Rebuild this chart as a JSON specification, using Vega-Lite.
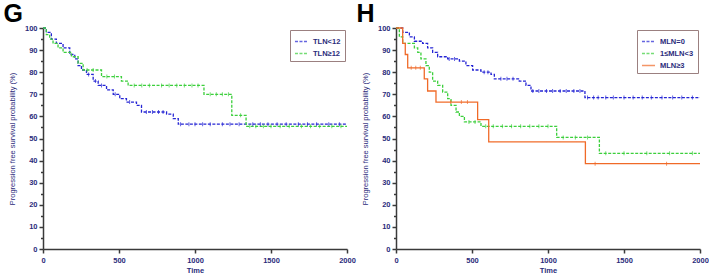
{
  "$schema": "https://vega.github.io/schema/vega-lite/v6.json",
  "background": "white",
  "padding": {"left": 3, "top": 2, "right": 0, "bottom": 0},
  "spacing": 0,
  "config": {
    "view": {"stroke": null},
    "font": "Liberation Sans",
    "title": {"fontSize": 25, "fontWeight": "bold", "font": "Liberation Sans", "color": "#000000", "anchor": "start", "frame": "bounds", "offset": -3, "dx": -5},
    "axis": {
      "grid": false,
      "domainColor": "#3a3a3a", "domainWidth": 1.5,
      "tickColor": "#3a3a3a", "tickWidth": 1.5, "tickSize": 4,
      "labelColor": "#2b2b7b", "labelFont": "Liberation Sans", "labelFontSize": 7.5, "labelFontWeight": "bold", "labelOverlap": false, "labelFlush": false,
      "titleColor": "#2b2b7b", "titleFont": "Liberation Sans", "titleFontSize": 7.5
    },
    "legend": {
      "orient": "top-right", "offset": 2, "strokeColor": "#9b8080", "fillColor": "white", "padding": 4,
      "symbolType": "stroke", "symbolSize": 170, "symbolStrokeWidth": 1.3, "rowPadding": 1,
      "labelFont": "Liberation Sans", "labelFontSize": 7.5, "labelFontWeight": "bold", "labelColor": "#2b2b7b",
      "title": null
    }
  },
  "resolve": {"scale": {"color": "independent", "strokeDash": "independent"}, "legend": {"color": "independent", "strokeDash": "independent"}},
  "hconcat": [
    {
      "width": 304, "height": 221,
      "title": {"text": "G"},
      "encoding": {
        "x": {"field": "t", "type": "quantitative", "scale": {"domain": [0, 2000]}, "axis": {"values": [0, 500, 1000, 1500, 2000], "format": "d", "labelFlush": false, "title": "Time", "titleFontWeight": "bold", "titlePadding": 3, "labelPadding": 3}},
        "y": {"field": "s", "type": "quantitative", "scale": {"domain": [0, 100]}, "axis": {"values": [0,5,10,15,20,25,30,35,40,45,50,55,60,65,70,75,80,85,90,95,100], "labelOverlap": false, "labelExpr": "datum.value % 10 === 0 ? datum.label : ''", "tickSize": {"condition": {"test": "datum.value % 10 === 0", "value": 4}, "value": 2.5}, "title": "Progression free survival probability (%)", "titleFontWeight": "normal", "titlePadding": 8}},
        "color": {"field": "g", "type": "nominal", "scale": {"domain": ["TLN<12", "TLN≥12"], "range": ["#2424d4", "#3ccf3c"]}}
      },
      "layer": [
        {
          "data": {"values": [
            {"g": "TLN<12", "t": 0, "s": 100}, {"g": "TLN<12", "t": 22, "s": 98}, {"g": "TLN<12", "t": 55, "s": 95}, {"g": "TLN<12", "t": 88, "s": 93},
            {"g": "TLN<12", "t": 132, "s": 91}, {"g": "TLN<12", "t": 176, "s": 88}, {"g": "TLN<12", "t": 209, "s": 86}, {"g": "TLN<12", "t": 231, "s": 83},
            {"g": "TLN<12", "t": 253, "s": 81}, {"g": "TLN<12", "t": 286, "s": 79}, {"g": "TLN<12", "t": 330, "s": 76}, {"g": "TLN<12", "t": 363, "s": 74},
            {"g": "TLN<12", "t": 418, "s": 72}, {"g": "TLN<12", "t": 462, "s": 70}, {"g": "TLN<12", "t": 505, "s": 68}, {"g": "TLN<12", "t": 549, "s": 66.5},
            {"g": "TLN<12", "t": 615, "s": 65}, {"g": "TLN<12", "t": 648, "s": 62}, {"g": "TLN<12", "t": 813, "s": 61}, {"g": "TLN<12", "t": 857, "s": 59},
            {"g": "TLN<12", "t": 890, "s": 56.5}, {"g": "TLN<12", "t": 2000, "s": 56.5},
            {"g": "TLN≥12", "t": 0, "s": 100}, {"g": "TLN≥12", "t": 22, "s": 97}, {"g": "TLN≥12", "t": 44, "s": 95}, {"g": "TLN≥12", "t": 66, "s": 93},
            {"g": "TLN≥12", "t": 99, "s": 91}, {"g": "TLN≥12", "t": 132, "s": 89}, {"g": "TLN≥12", "t": 187, "s": 87}, {"g": "TLN≥12", "t": 231, "s": 84},
            {"g": "TLN≥12", "t": 264, "s": 81}, {"g": "TLN≥12", "t": 385, "s": 78}, {"g": "TLN≥12", "t": 516, "s": 76}, {"g": "TLN≥12", "t": 560, "s": 74},
            {"g": "TLN≥12", "t": 1059, "s": 70}, {"g": "TLN≥12", "t": 1242, "s": 60.5}, {"g": "TLN≥12", "t": 1336, "s": 55.5}, {"g": "TLN≥12", "t": 2000, "s": 55.5}
          ]},
          "mark": {"type": "line", "interpolate": "step-after", "strokeWidth": 1.3},
          "encoding": {
            "strokeDash": {"field": "g", "type": "nominal", "scale": {"domain": ["TLN<12", "TLN≥12"], "range": [[3, 1.5], [3, 1.5]]}}
          }
        },
        {
          "data": {"values": [
            {"g": "TLN<12", "t": 300, "s": 79}, {"g": "TLN<12", "t": 345, "s": 76}, {"g": "TLN<12", "t": 385, "s": 74}, {"g": "TLN<12", "t": 475, "s": 70}, {"g": "TLN<12", "t": 570, "s": 66.5},
            {"g": "TLN<12", "t": 680, "s": 62}, {"g": "TLN<12", "t": 720, "s": 62}, {"g": "TLN<12", "t": 760, "s": 62}, {"g": "TLN<12", "t": 790, "s": 62},
            {"g": "TLN<12", "t": 905, "s": 56.5}, {"g": "TLN<12", "t": 960, "s": 56.5}, {"g": "TLN<12", "t": 1000, "s": 56.5}, {"g": "TLN<12", "t": 1050, "s": 56.5},
            {"g": "TLN<12", "t": 1100, "s": 56.5}, {"g": "TLN<12", "t": 1180, "s": 56.5}, {"g": "TLN<12", "t": 1230, "s": 56.5}, {"g": "TLN<12", "t": 1290, "s": 56.5},
            {"g": "TLN<12", "t": 1380, "s": 56.5}, {"g": "TLN<12", "t": 1430, "s": 56.5}, {"g": "TLN<12", "t": 1480, "s": 56.5}, {"g": "TLN<12", "t": 1540, "s": 56.5},
            {"g": "TLN<12", "t": 1600, "s": 56.5}, {"g": "TLN<12", "t": 1680, "s": 56.5}, {"g": "TLN<12", "t": 1740, "s": 56.5}, {"g": "TLN<12", "t": 1800, "s": 56.5},
            {"g": "TLN<12", "t": 1880, "s": 56.5}, {"g": "TLN<12", "t": 1950, "s": 56.5},
            {"g": "TLN≥12", "t": 290, "s": 81}, {"g": "TLN≥12", "t": 330, "s": 81}, {"g": "TLN≥12", "t": 420, "s": 78}, {"g": "TLN≥12", "t": 470, "s": 78},
            {"g": "TLN≥12", "t": 600, "s": 74}, {"g": "TLN≥12", "t": 650, "s": 74}, {"g": "TLN≥12", "t": 700, "s": 74}, {"g": "TLN≥12", "t": 780, "s": 74},
            {"g": "TLN≥12", "t": 830, "s": 74}, {"g": "TLN≥12", "t": 880, "s": 74}, {"g": "TLN≥12", "t": 930, "s": 74}, {"g": "TLN≥12", "t": 980, "s": 74},
            {"g": "TLN≥12", "t": 1020, "s": 74}, {"g": "TLN≥12", "t": 1100, "s": 70}, {"g": "TLN≥12", "t": 1140, "s": 70}, {"g": "TLN≥12", "t": 1180, "s": 70},
            {"g": "TLN≥12", "t": 1220, "s": 70}, {"g": "TLN≥12", "t": 1300, "s": 60.5}, {"g": "TLN≥12", "t": 1360, "s": 55.5}, {"g": "TLN≥12", "t": 1400, "s": 55.5},
            {"g": "TLN≥12", "t": 1450, "s": 55.5}, {"g": "TLN≥12", "t": 1500, "s": 55.5}, {"g": "TLN≥12", "t": 1560, "s": 55.5}, {"g": "TLN≥12", "t": 1620, "s": 55.5},
            {"g": "TLN≥12", "t": 1700, "s": 55.5}, {"g": "TLN≥12", "t": 1760, "s": 55.5}, {"g": "TLN≥12", "t": 1820, "s": 55.5}, {"g": "TLN≥12", "t": 1900, "s": 55.5},
            {"g": "TLN≥12", "t": 1960, "s": 55.5}
          ]},
          "mark": {"type": "tick", "orient": "vertical", "size": 4, "thickness": 1}
        }
      ]
    },
    {
      "width": 304, "height": 221,
      "title": {"text": "H"},
      "encoding": {
        "x": {"field": "t", "type": "quantitative", "scale": {"domain": [0, 2000]}, "axis": {"values": [0, 500, 1000, 1500, 2000], "format": "d", "labelFlush": false, "title": "Time", "titleFontWeight": "bold", "titlePadding": 3, "labelPadding": 3}},
        "y": {"field": "s", "type": "quantitative", "scale": {"domain": [0, 100]}, "axis": {"values": [0,5,10,15,20,25,30,35,40,45,50,55,60,65,70,75,80,85,90,95,100], "labelOverlap": false, "labelExpr": "datum.value % 10 === 0 ? datum.label : ''", "tickSize": {"condition": {"test": "datum.value % 10 === 0", "value": 4}, "value": 2.5}, "title": "Progression free survival probability (%)", "titleFontWeight": "normal", "titlePadding": 8}},
        "color": {"field": "g", "type": "nominal", "scale": {"domain": ["MLN=0", "1≤MLN<3", "MLN≥3"], "range": ["#2424d4", "#3ccf3c", "#f06a28"]}}
      },
      "layer": [
        {
          "data": {"values": [
            {"g": "MLN=0", "t": 0, "s": 100}, {"g": "MLN=0", "t": 44, "s": 98}, {"g": "MLN=0", "t": 88, "s": 96}, {"g": "MLN=0", "t": 121, "s": 94},
            {"g": "MLN=0", "t": 175, "s": 93}, {"g": "MLN=0", "t": 208, "s": 91}, {"g": "MLN=0", "t": 241, "s": 89}, {"g": "MLN=0", "t": 274, "s": 87},
            {"g": "MLN=0", "t": 340, "s": 86}, {"g": "MLN=0", "t": 417, "s": 85}, {"g": "MLN=0", "t": 460, "s": 83}, {"g": "MLN=0", "t": 504, "s": 81},
            {"g": "MLN=0", "t": 559, "s": 80}, {"g": "MLN=0", "t": 625, "s": 79}, {"g": "MLN=0", "t": 647, "s": 77}, {"g": "MLN=0", "t": 811, "s": 76},
            {"g": "MLN=0", "t": 855, "s": 74}, {"g": "MLN=0", "t": 888, "s": 71.5}, {"g": "MLN=0", "t": 1243, "s": 68.5}, {"g": "MLN=0", "t": 2000, "s": 68.5},
            {"g": "1≤MLN<3", "t": 0, "s": 100}, {"g": "1≤MLN<3", "t": 22, "s": 96}, {"g": "1≤MLN<3", "t": 44, "s": 93}, {"g": "1≤MLN<3", "t": 121, "s": 91},
            {"g": "1≤MLN<3", "t": 143, "s": 89}, {"g": "1≤MLN<3", "t": 164, "s": 86}, {"g": "1≤MLN<3", "t": 197, "s": 83}, {"g": "1≤MLN<3", "t": 219, "s": 80},
            {"g": "1≤MLN<3", "t": 241, "s": 76}, {"g": "1≤MLN<3", "t": 274, "s": 74}, {"g": "1≤MLN<3", "t": 307, "s": 71}, {"g": "1≤MLN<3", "t": 340, "s": 68},
            {"g": "1≤MLN<3", "t": 362, "s": 65}, {"g": "1≤MLN<3", "t": 395, "s": 62}, {"g": "1≤MLN<3", "t": 417, "s": 60}, {"g": "1≤MLN<3", "t": 450, "s": 57.5},
            {"g": "1≤MLN<3", "t": 559, "s": 55.5}, {"g": "1≤MLN<3", "t": 1057, "s": 50.5}, {"g": "1≤MLN<3", "t": 1338, "s": 43.3}, {"g": "1≤MLN<3", "t": 2000, "s": 43.3},
            {"g": "MLN≥3", "t": 0, "s": 100}, {"g": "MLN≥3", "t": 44, "s": 93}, {"g": "MLN≥3", "t": 61, "s": 88}, {"g": "MLN≥3", "t": 77, "s": 82},
            {"g": "MLN≥3", "t": 186, "s": 77}, {"g": "MLN≥3", "t": 208, "s": 71.5}, {"g": "MLN≥3", "t": 263, "s": 66.5}, {"g": "MLN≥3", "t": 537, "s": 58.5},
            {"g": "MLN≥3", "t": 610, "s": 48.5}, {"g": "MLN≥3", "t": 1246, "s": 38.6}, {"g": "MLN≥3", "t": 2000, "s": 38.6}
          ]},
          "mark": {"type": "line", "interpolate": "step-after", "strokeWidth": 1.3},
          "encoding": {
            "strokeDash": {"field": "g", "type": "nominal", "scale": {"domain": ["MLN=0", "1≤MLN<3", "MLN≥3"], "range": [[3, 1.5], [3, 1.5], [1, 0]]}}
          }
        },
        {
          "data": {"values": [
            {"g": "MLN=0", "t": 350, "s": 86}, {"g": "MLN=0", "t": 385, "s": 86}, {"g": "MLN=0", "t": 580, "s": 80}, {"g": "MLN=0", "t": 605, "s": 80},
            {"g": "MLN=0", "t": 690, "s": 77}, {"g": "MLN=0", "t": 730, "s": 77}, {"g": "MLN=0", "t": 770, "s": 77},
            {"g": "MLN=0", "t": 900, "s": 71.5}, {"g": "MLN=0", "t": 940, "s": 71.5}, {"g": "MLN=0", "t": 990, "s": 71.5}, {"g": "MLN=0", "t": 1030, "s": 71.5},
            {"g": "MLN=0", "t": 1080, "s": 71.5}, {"g": "MLN=0", "t": 1120, "s": 71.5}, {"g": "MLN=0", "t": 1170, "s": 71.5}, {"g": "MLN=0", "t": 1210, "s": 71.5},
            {"g": "MLN=0", "t": 1260, "s": 68.5}, {"g": "MLN=0", "t": 1300, "s": 68.5}, {"g": "MLN=0", "t": 1330, "s": 68.5}, {"g": "MLN=0", "t": 1380, "s": 68.5},
            {"g": "MLN=0", "t": 1430, "s": 68.5}, {"g": "MLN=0", "t": 1500, "s": 68.5}, {"g": "MLN=0", "t": 1560, "s": 68.5}, {"g": "MLN=0", "t": 1620, "s": 68.5},
            {"g": "MLN=0", "t": 1680, "s": 68.5}, {"g": "MLN=0", "t": 1750, "s": 68.5}, {"g": "MLN=0", "t": 1820, "s": 68.5}, {"g": "MLN=0", "t": 1880, "s": 68.5},
            {"g": "MLN=0", "t": 1950, "s": 68.5},
            {"g": "1≤MLN<3", "t": 480, "s": 57.5}, {"g": "1≤MLN<3", "t": 520, "s": 57.5}, {"g": "1≤MLN<3", "t": 590, "s": 55.5}, {"g": "1≤MLN<3", "t": 640, "s": 55.5},
            {"g": "1≤MLN<3", "t": 700, "s": 55.5}, {"g": "1≤MLN<3", "t": 760, "s": 55.5}, {"g": "1≤MLN<3", "t": 820, "s": 55.5}, {"g": "1≤MLN<3", "t": 880, "s": 55.5},
            {"g": "1≤MLN<3", "t": 940, "s": 55.5}, {"g": "1≤MLN<3", "t": 1000, "s": 55.5}, {"g": "1≤MLN<3", "t": 1100, "s": 50.5}, {"g": "1≤MLN<3", "t": 1180, "s": 50.5},
            {"g": "1≤MLN<3", "t": 1260, "s": 50.5}, {"g": "1≤MLN<3", "t": 1380, "s": 43.3}, {"g": "1≤MLN<3", "t": 1500, "s": 43.3}, {"g": "1≤MLN<3", "t": 1650, "s": 43.3},
            {"g": "1≤MLN<3", "t": 1800, "s": 43.3}, {"g": "1≤MLN<3", "t": 1950, "s": 43.3},
            {"g": "MLN≥3", "t": 100, "s": 82}, {"g": "MLN≥3", "t": 130, "s": 82}, {"g": "MLN≥3", "t": 160, "s": 82}, {"g": "MLN≥3", "t": 360, "s": 66.5},
            {"g": "MLN≥3", "t": 430, "s": 66.5}, {"g": "MLN≥3", "t": 470, "s": 66.5}, {"g": "MLN≥3", "t": 1310, "s": 38.6}, {"g": "MLN≥3", "t": 1780, "s": 38.6}
          ]},
          "mark": {"type": "tick", "orient": "vertical", "size": 4, "thickness": 1}
        }
      ]
    }
  ]
}
